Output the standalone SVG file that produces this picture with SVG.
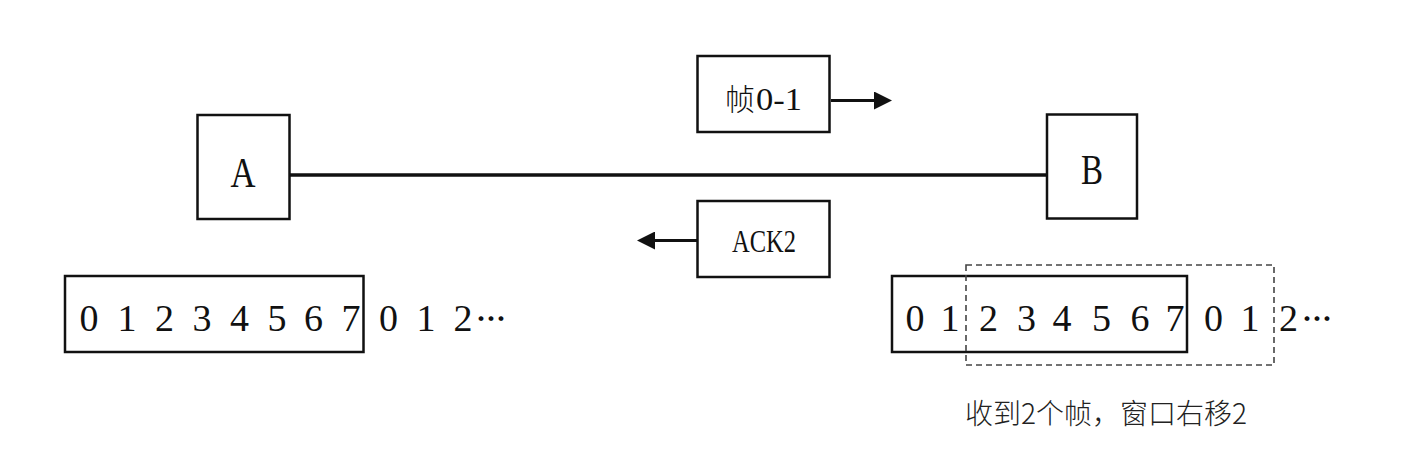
<svg xmlns="http://www.w3.org/2000/svg" width="1428" height="474" viewBox="0 0 1428 474">
<style>
.box{fill:#fff;stroke:#111;stroke-width:2.5}
.win{fill:none;stroke:#111;stroke-width:2.5}
.dash{fill:none;stroke:#444;stroke-width:1.6;stroke-dasharray:6 4}
.lbl{font-family:"Liberation Serif",serif;fill:#111}
.cjk{font-family:"Noto Sans CJK SC",sans-serif;fill:#111}
.dig{font-family:"Liberation Serif",serif;font-size:38px;fill:#111;text-anchor:middle}
.ell{font-family:"Noto Sans CJK SC",sans-serif;font-size:30px;font-weight:bold;fill:#111}
.cap{font-family:"Noto Sans CJK SC",sans-serif;font-size:28px;fill:#222}
</style>
<defs>
<marker id="ah" markerWidth="6" markerHeight="6" refX="5" refY="3" orient="auto" markerUnits="strokeWidth">
<path d="M0,0 L6,3 L0,6 z" fill="#111"/>
</marker>
</defs>
<rect width="1428" height="474" fill="#fff"/>
<g id="connectors">
<line x1="290" y1="175" x2="1047" y2="175" stroke="#111" stroke-width="3.5"/>
<line x1="831" y1="100.5" x2="889" y2="100.5" stroke="#111" stroke-width="3" marker-end="url(#ah)"/>
<line x1="697" y1="240.5" x2="640" y2="240.5" stroke="#111" stroke-width="3" marker-end="url(#ah)"/>
</g>
<g id="nodeA">
<rect class="box" x="197.5" y="115" width="92" height="104"/>
<text class="lbl" x="243" y="187" font-size="42" text-anchor="middle" textLength="25" lengthAdjust="spacingAndGlyphs">A</text>
</g>
<g id="nodeB">
<rect class="box" x="1047" y="114.5" width="90" height="104"/>
<text class="lbl" x="1092" y="184" font-size="42" text-anchor="middle" textLength="22" lengthAdjust="spacingAndGlyphs">B</text>
</g>
<g id="frame">
<rect class="box" x="697.5" y="56" width="132" height="76"/>
<text class="cjk" x="725" y="110" font-size="30" font-weight="300">帧</text>
<text class="lbl" x="756" y="110" font-size="32" textLength="46" lengthAdjust="spacingAndGlyphs">0-1</text>
</g>
<g id="ack">
<rect class="box" x="697.5" y="201" width="132" height="76"/>
<text class="lbl" x="732" y="252" font-size="32" textLength="64" lengthAdjust="spacingAndGlyphs">ACK2</text>
</g>
<g id="windowA">
<rect class="win" x="65" y="276" width="298.5" height="76"/>
<g class="dig">
<text x="89" y="331">0</text><text x="127" y="331">1</text><text x="164.5" y="331">2</text><text x="202" y="331">3</text>
<text x="239.5" y="331">4</text><text x="277" y="331">5</text><text x="313.5" y="331">6</text><text x="351" y="331">7</text>
<text x="388.5" y="331">0</text><text x="426" y="331">1</text><text x="463" y="331">2</text>
</g>
<text class="ell" x="476" y="330">…</text>
</g>
<g id="windowB">
<rect class="win" x="892" y="276" width="295" height="76"/>
<rect class="dash" x="966" y="265" width="308" height="100"/>
<g class="dig">
<text x="915" y="331">0</text><text x="950" y="331">1</text><text x="988.5" y="331">2</text><text x="1026.5" y="331">3</text>
<text x="1062" y="331">4</text><text x="1101.5" y="331">5</text><text x="1140" y="331">6</text><text x="1175" y="331">7</text>
<text x="1213.5" y="331">0</text><text x="1250" y="331">1</text><text x="1288.5" y="331">2</text>
</g>
<text class="ell" x="1302" y="330">…</text>
<text class="cap" x="1106" y="424" text-anchor="middle" font-weight="300">收到2个帧，窗口右移2</text>
</g>
</svg>
